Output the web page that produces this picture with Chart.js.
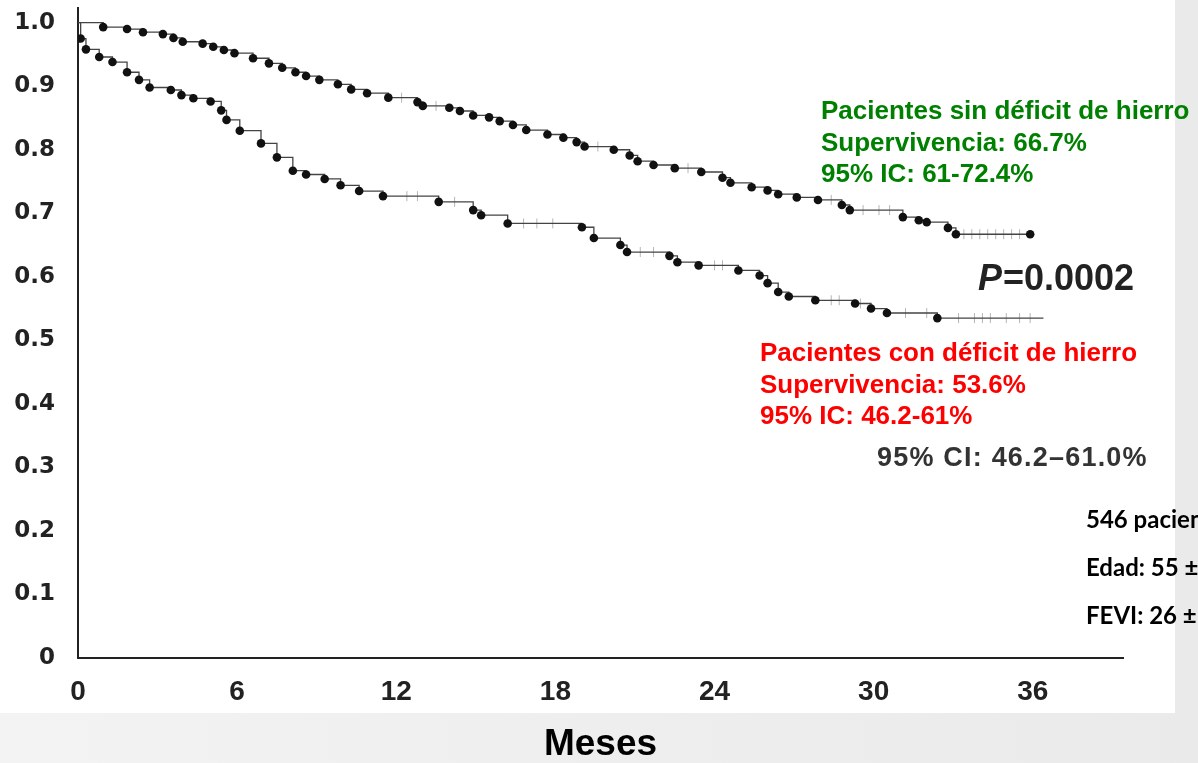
<!DOCTYPE html>
<html>
<head>
<meta charset="utf-8">
<script src="https://cdn.jsdelivr.net/npm/chart.js@4"></script>
<style>
  html, body { margin: 0; padding: 0; background: #efefef; }
  #wrap { width: 1198px; height: 763px; }
</style>
</head>
<body>
<div id="wrap"><canvas id="km" width="1198" height="763"></canvas></div>
<script>
// Kaplan-Meier: meses vs supervivencia acumulada
var mesesSin = [0, 0.95, 1.85, 2.45, 3.2, 3.6, 3.95, 4.7, 5.1, 5.5, 5.9, 6.6, 7.2, 7.7, 8.2, 8.6, 9.1, 9.8, 10.3, 10.9, 11.7,
  12.8, 13.0, 14.0, 14.4, 14.9, 15.5, 15.9, 16.4, 16.9, 17.7, 18.3, 18.8, 19.1, 20.2, 20.8, 21.1, 21.7, 22.5, 23.5,
  24.3, 24.6, 25.4, 26.0, 26.4, 27.1, 27.9, 28.8, 29.1, 31.1, 31.7, 32.0, 32.8, 33.1, 35.9];
var supSin = [1.0, 0.993, 0.990, 0.985, 0.982, 0.976, 0.970, 0.967, 0.962, 0.957, 0.952, 0.944, 0.936, 0.929, 0.922, 0.916, 0.910, 0.903, 0.895, 0.889, 0.882,
  0.875, 0.869, 0.866, 0.861, 0.854, 0.851, 0.845, 0.839, 0.831, 0.824, 0.819, 0.812, 0.805, 0.800, 0.791, 0.782, 0.776, 0.771, 0.765,
  0.756, 0.748, 0.741, 0.736, 0.730, 0.725, 0.721, 0.713, 0.705, 0.694, 0.689, 0.686, 0.677, 0.667, 0.667];

var mesesCon = [0, 0.1, 0.3, 0.8, 1.3, 1.85, 2.3, 2.7, 3.5, 3.9, 4.35, 5.0, 5.4, 5.6, 6.1, 6.9, 7.5, 8.1, 8.6, 9.3, 9.9, 10.6, 11.5,
  13.6, 14.9, 15.2, 16.2, 19.0, 19.45, 20.45, 20.7, 22.3, 22.6, 23.4, 24.9, 25.7, 26.0, 26.4, 26.8, 27.8, 29.3, 29.9, 30.5, 32.4, 36.4];
var supCon = [1.0, 0.975, 0.958, 0.946, 0.938, 0.922, 0.910, 0.898, 0.894, 0.886, 0.881, 0.876, 0.862, 0.847, 0.830, 0.810, 0.788, 0.767, 0.761, 0.754, 0.744, 0.735, 0.727,
  0.718, 0.705, 0.697, 0.684, 0.678, 0.661, 0.650, 0.639, 0.633, 0.623, 0.618, 0.610, 0.602, 0.590, 0.576, 0.569, 0.563, 0.558, 0.550, 0.543, 0.535, 0.535];

// pacientes censurados (marcas verticales)
var censMesesSin = [12.2, 13.5, 19.6, 23.0, 28.4, 29.6, 30.2, 30.6, 33.4, 33.7, 34.0, 34.3, 34.6, 34.9, 35.2, 35.5];
var censSupSin = [0.882, 0.869, 0.805, 0.771, 0.721, 0.705, 0.705, 0.705, 0.667, 0.667, 0.667, 0.667, 0.667, 0.667, 0.667, 0.667];
var censMesesCon = [12.4, 12.8, 14.2, 16.8, 17.3, 17.9, 21.2, 21.7, 24.0, 24.3, 28.4, 28.7, 29.5, 31.2, 32.0, 33.2, 33.8, 34.1, 34.4, 35.0, 35.5, 35.9];
var censSupCon = [0.727, 0.727, 0.718, 0.684, 0.684, 0.684, 0.639, 0.639, 0.618, 0.618, 0.563, 0.563, 0.558, 0.543, 0.543, 0.535, 0.535, 0.535, 0.535, 0.535, 0.535, 0.535];

var xTicks = [0, 6, 12, 18, 24, 30, 36];
var yTicks = [0, 0.1, 0.2, 0.3, 0.4, 0.5, 0.6, 0.7, 0.8, 0.9, 1.0];

function pts(xs, ys) {
  return xs.map(function (x, i) { return { x: x, y: ys[i] }; });
}

// fondo de la diapositiva + recuadro blanco del grafico
var fondo = {
  id: 'fondo',
  beforeDraw: function (chart) {
    var ctx = chart.ctx;
    var g = ctx.createLinearGradient(0, 0, chart.width, 0);
    g.addColorStop(0, '#f3f3f3');
    g.addColorStop(0.5, '#eeeeee');
    g.addColorStop(1, '#eaeaea');
    ctx.save();
    ctx.fillStyle = g;
    ctx.fillRect(0, 0, chart.width, chart.height);
    ctx.fillStyle = '#ffffff';
    ctx.fillRect(0, 0, 1175, 713);
    ctx.restore();
  }
};

// textos de las anotaciones
var textos = {
  id: 'textos',
  afterDraw: function (chart) {
    var ctx = chart.ctx;
    ctx.save();
    ctx.textAlign = 'left';
    ctx.textBaseline = 'alphabetic';

    ctx.font = 'bold 26px "Liberation Sans", Arial, sans-serif';
    ctx.fillStyle = '#008000';
    ctx.fillText('Pacientes sin déficit de hierro', 821, 119);
    ctx.fillText('Supervivencia: 66.7%', 821, 151);
    ctx.fillText('95% IC: 61-72.4%', 821, 182);

    ctx.fillStyle = '#ff0000';
    ctx.fillText('Pacientes con déficit de hierro', 760, 361);
    ctx.fillText('Supervivencia: 53.6%', 760, 393);
    ctx.fillText('95% IC: 46.2-61%', 760, 424);

    ctx.fillStyle = '#222222';
    ctx.font = 'italic bold 36px "Liberation Sans", Arial, sans-serif';
    ctx.fillText('P', 978, 290);
    var wP = ctx.measureText('P').width;
    ctx.font = 'bold 36px "Liberation Sans", Arial, sans-serif';
    ctx.fillText('=0.0002', 978 + wP + 1, 290);

    ctx.fillStyle = '#333333';
    ctx.font = 'bold 27px "Liberation Sans", Arial, sans-serif';
    ctx.letterSpacing = '1.2px';
    ctx.fillText('95% CI: 46.2\u201361.0%', 877, 466);
    ctx.letterSpacing = '0px';

    ctx.fillStyle = '#000000';
    ctx.font = 'bold 24px Lato, "Open Sans", sans-serif';
    ctx.fillText('546 pacientes', 1086, 528);
    ctx.fillText('Edad: 55 \u00b1', 1086, 576);
    ctx.fillText('FEVI: 26 \u00b1', 1086, 624);
    ctx.restore();
  }
};

function radioPuntos(ctx) {
  var n = ctx.dataset.data.length;
  if (ctx.dataIndex === 0) return 0;
  if (ctx.datasetIndex === 1 && ctx.dataIndex === n - 1) return 0;
  return 4.3;
}

new Chart(document.getElementById('km'), {
  type: 'line',
  data: {
    datasets: [
      {
        label: 'Pacientes sin déficit de hierro',
        data: pts(mesesSin, supSin),
        stepped: true,
        borderColor: '#444444',
        borderWidth: 1.3,
        pointRadius: radioPuntos,
        pointBackgroundColor: '#111111',
        pointBorderColor: '#111111',
        pointBorderWidth: 0
      },
      {
        label: 'Pacientes con déficit de hierro',
        data: pts(mesesCon, supCon),
        stepped: true,
        borderColor: '#444444',
        borderWidth: 1.3,
        pointRadius: radioPuntos,
        pointBackgroundColor: '#111111',
        pointBorderColor: '#111111',
        pointBorderWidth: 0
      },
      {
        label: 'censurados sin',
        data: pts(censMesesSin, censSupSin),
        showLine: false,
        pointStyle: 'line',
        rotation: 90,
        pointRadius: 5,
        borderColor: 'rgba(110,110,110,0.5)',
        pointBorderWidth: 1
      },
      {
        label: 'censurados con',
        data: pts(censMesesCon, censSupCon),
        showLine: false,
        pointStyle: 'line',
        rotation: 90,
        pointRadius: 5,
        borderColor: 'rgba(110,110,110,0.5)',
        pointBorderWidth: 1
      }
    ]
  },
  options: {
    responsive: false,
    animation: false,
    layout: { padding: { top: 8, right: 75, left: 0, bottom: 0 } },
    plugins: {
      legend: { display: false },
      tooltip: { enabled: false }
    },
    scales: {
      x: {
        type: 'linear',
        min: 0,
        max: 39.4,
        afterFit: function (s) { s.height = 105; s.paddingLeft = 0; s.paddingRight = 0; },
        afterBuildTicks: function (s) { s.ticks = xTicks.map(function (v) { return { value: v }; }); },
        grid: { display: false },
        border: { display: true, color: '#222222', width: 2 },
        ticks: {
          padding: 9,
          color: '#222222',
          font: { family: '"Liberation Sans", Arial, sans-serif', size: 28, weight: 'bold' }
        },
        title: {
          display: true,
          text: 'Meses',
          color: '#000000',
          align: 'center',
          padding: { top: 0, bottom: 0 },
          font: { family: '"Liberation Sans", Arial, sans-serif', size: 37, weight: 'bold', lineHeight: 1 }
        }
      },
      y: {
        min: 0,
        max: 1.0231,
        afterFit: function (s) { s.width = 78; s.paddingTop = 0; s.paddingBottom = 0; },
        afterBuildTicks: function (s) { s.ticks = yTicks.map(function (v) { return { value: v }; }); },
        grid: { display: false },
        border: { display: true, color: '#222222', width: 2 },
        ticks: {
          padding: 15,
          color: '#222222',
          font: { family: '"DejaVu Sans", sans-serif', size: 23, weight: 'bold' },
          callback: function (v) { return v === 0 ? '0' : v.toFixed(1); }
        }
      }
    }
  },
  plugins: [fondo, textos]
});
</script>
</body>
</html>
